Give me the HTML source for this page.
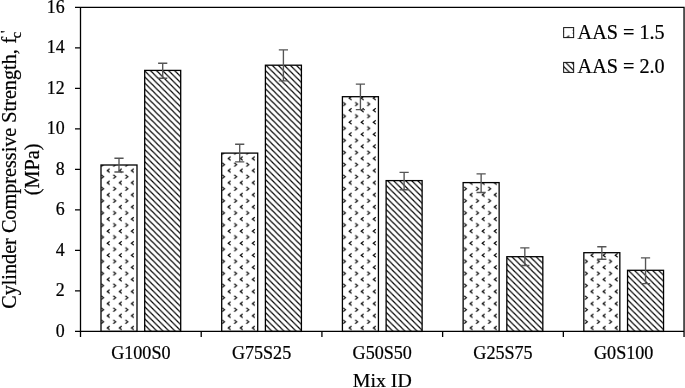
<!DOCTYPE html>
<html><head><meta charset="utf-8"><title>Chart</title>
<style>html,body{margin:0;padding:0;background:#fff}svg{display:block}text{font-family:"Liberation Serif","Times New Roman",serif;fill:#000;stroke:#000;stroke-width:0.22px}</style></head><body>
<svg width="685" height="388" viewBox="0 0 685 388">
<rect width="100%" height="100%" fill="#fff"/>
<defs>
<pattern id="chev" patternUnits="userSpaceOnUse" x="102.40" y="324.88" width="12.095" height="12.095"><rect width="12.095" height="12.095" fill="#fff"/><path d="M7.25 1.12 L4.85 3.02 L7.25 4.92" fill="none" stroke="#000" stroke-width="1.15"/><path d="M-1.20 7.17 L1.20 9.07 L-1.20 10.97" fill="none" stroke="#000" stroke-width="1.15"/><path d="M10.90 7.17 L13.29 9.07 L10.90 10.97" fill="none" stroke="#000" stroke-width="1.15"/></pattern>
<pattern id="diag" patternUnits="userSpaceOnUse" x="78.60" y="331.40" width="6.048" height="6.048"><rect width="6.048" height="6.048" fill="#fff"/><path d="M-6.048 -6.048 L12.095 12.095 M-6.048 0 L6.048 12.095 M0 -6.048 L12.095 6.048" stroke="#000" stroke-width="1.2"/></pattern>
</defs>
<rect x="101.00" y="165.00" width="36.00" height="166.40" fill="url(#chev)" stroke="#000" stroke-width="1.3"/>
<rect x="144.70" y="70.40" width="36.00" height="261.00" fill="url(#diag)" stroke="#000" stroke-width="1.3"/>
<rect x="221.71" y="153.10" width="36.00" height="178.30" fill="url(#chev)" stroke="#000" stroke-width="1.3"/>
<rect x="265.41" y="65.20" width="36.00" height="266.20" fill="url(#diag)" stroke="#000" stroke-width="1.3"/>
<rect x="342.42" y="96.70" width="36.00" height="234.70" fill="url(#chev)" stroke="#000" stroke-width="1.3"/>
<rect x="386.12" y="180.60" width="36.00" height="150.80" fill="url(#diag)" stroke="#000" stroke-width="1.3"/>
<rect x="463.13" y="182.60" width="36.00" height="148.80" fill="url(#chev)" stroke="#000" stroke-width="1.3"/>
<rect x="506.83" y="256.70" width="36.00" height="74.70" fill="url(#diag)" stroke="#000" stroke-width="1.3"/>
<rect x="583.84" y="252.70" width="36.00" height="78.70" fill="url(#chev)" stroke="#000" stroke-width="1.3"/>
<rect x="627.54" y="270.30" width="36.00" height="61.10" fill="url(#diag)" stroke="#000" stroke-width="1.3"/>
<path d="M119.00 158.20 V172.00 M114.40 158.20 H123.60 M114.40 172.00 H123.60" fill="none" stroke="#555" stroke-width="1.35"/>
<path d="M162.70 63.20 V78.20 M158.10 63.20 H167.30 M158.10 78.20 H167.30" fill="none" stroke="#555" stroke-width="1.35"/>
<path d="M239.71 144.20 V161.80 M235.11 144.20 H244.31 M235.11 161.80 H244.31" fill="none" stroke="#555" stroke-width="1.35"/>
<path d="M283.41 49.80 V80.90 M278.81 49.80 H288.01 M278.81 80.90 H288.01" fill="none" stroke="#555" stroke-width="1.35"/>
<path d="M360.42 84.10 V109.60 M355.82 84.10 H365.02 M355.82 109.60 H365.02" fill="none" stroke="#555" stroke-width="1.35"/>
<path d="M404.12 172.40 V189.70 M399.52 172.40 H408.72 M399.52 189.70 H408.72" fill="none" stroke="#555" stroke-width="1.35"/>
<path d="M481.13 173.80 V192.50 M476.53 173.80 H485.73 M476.53 192.50 H485.73" fill="none" stroke="#555" stroke-width="1.35"/>
<path d="M524.83 247.90 V265.50 M520.23 247.90 H529.43 M520.23 265.50 H529.43" fill="none" stroke="#555" stroke-width="1.35"/>
<path d="M601.84 246.70 V259.20 M597.24 246.70 H606.44 M597.24 259.20 H606.44" fill="none" stroke="#555" stroke-width="1.35"/>
<path d="M645.54 257.90 V283.60 M640.94 257.90 H650.14 M640.94 283.60 H650.14" fill="none" stroke="#555" stroke-width="1.35"/>
<path d="M75.00 7.30 H684.05 V336.90 M80.50 7.30 V336.90 M75.00 331.40 H684.05 M75.00 290.89 H80.50 M75.00 250.38 H80.50 M75.00 209.86 H80.50 M75.00 169.35 H80.50 M75.00 128.84 H80.50 M75.00 88.32 H80.50 M75.00 47.81 H80.50 M201.21 331.40 V336.90 M321.92 331.40 V336.90 M442.63 331.40 V336.90 M563.34 331.40 V336.90" fill="none" stroke="#000" stroke-width="1.3"/>
<text x="64.6" y="336.70" font-size="17.9" text-anchor="end">0</text>
<text x="64.6" y="296.19" font-size="17.9" text-anchor="end">2</text>
<text x="64.6" y="255.68" font-size="17.9" text-anchor="end">4</text>
<text x="64.6" y="215.16" font-size="17.9" text-anchor="end">6</text>
<text x="64.6" y="174.65" font-size="17.9" text-anchor="end">8</text>
<text x="64.6" y="134.14" font-size="17.9" text-anchor="end">10</text>
<text x="64.6" y="93.62" font-size="17.9" text-anchor="end">12</text>
<text x="64.6" y="53.11" font-size="17.9" text-anchor="end">14</text>
<text x="64.6" y="12.60" font-size="17.9" text-anchor="end">16</text>
<text x="140.85" y="358.8" font-size="18.1" text-anchor="middle">G100S0</text>
<text x="261.56" y="358.8" font-size="18.1" text-anchor="middle">G75S25</text>
<text x="382.27" y="358.8" font-size="18.1" text-anchor="middle">G50S50</text>
<text x="502.98" y="358.8" font-size="18.1" text-anchor="middle">G25S75</text>
<text x="623.69" y="358.8" font-size="18.1" text-anchor="middle">G0S100</text>
<text x="382.27" y="387.25" font-size="19.85" text-anchor="middle">Mix ID</text>
<text transform="translate(16.3 308.8) rotate(-90)" font-size="20.2" text-anchor="start">Cylinder Compressive Strength, <tspan dx="0.6">f</tspan><tspan font-size="14.5" dy="4.8" dx="-1.5">c</tspan><tspan font-size="14.5" dy="-10.2" dx="-1.2">'</tspan></text>
<text transform="translate(39.3 169.35) rotate(-90)" font-size="20.2" text-anchor="middle">(MPa)</text>
<rect x="563.65" y="27.6" width="10" height="10" fill="url(#chev)" stroke="#111" stroke-width="1"/>
<text x="577.6" y="38.6" font-size="20.2">AAS = 1.5</text>
<rect x="563.65" y="62.4" width="10" height="10" fill="url(#diag)" stroke="#111" stroke-width="1"/>
<text x="577.6" y="73.3" font-size="20.2">AAS = 2.0</text>
</svg></body></html>
